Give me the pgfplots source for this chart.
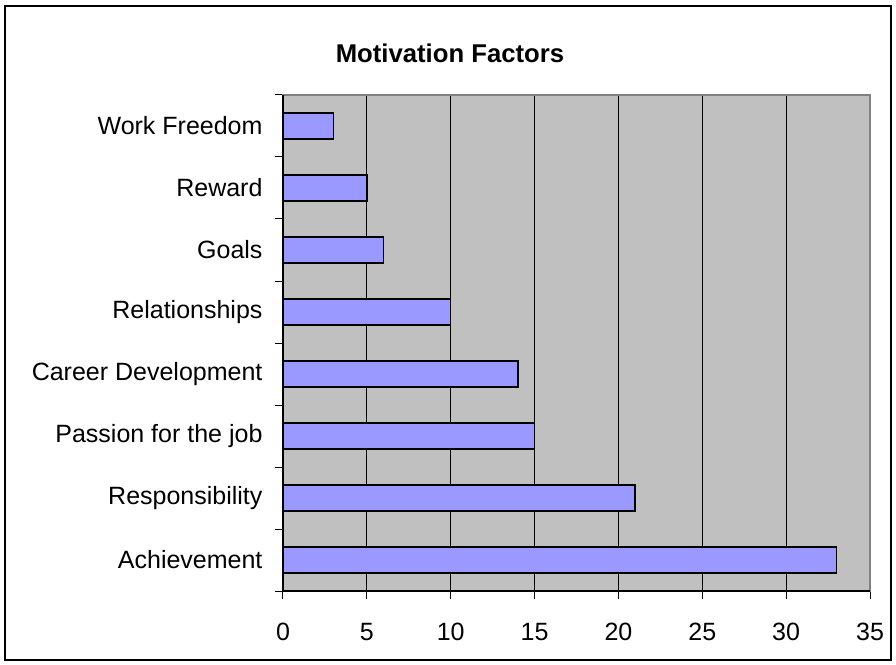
\documentclass[border=0pt]{standalone}
\usepackage{fontspec}
\setmainfont{Liberation Sans}
\usepackage{pgfplots}
\usepackage{pgfplotstable}
\pgfplotsset{compat=1.18}
\definecolor{barblue}{HTML}{9999FF}
\definecolor{plotgray}{HTML}{C0C0C0}
\definecolor{edgegray}{HTML}{808080}
\pgfplotstableread{
pos value
1 33
2 21
3 15
4 14
5 10
6 6
7 5
8 3
}\datatable
\begin{document}
\begin{tikzpicture}
\path[use as bounding box] (-283pt,-73pt) rectangle (613pt,591pt);
\begin{axis}[
  scale only axis, width=587pt, height=496pt,
  at={(0,0)}, anchor=south west,
  xmin=0, xmax=35, ymin=0.5, ymax=8.5,
  xtick={0,5,...,35},
  ytick={0.5,1.5,...,8.5},
  yticklabels={},
  xtick pos=bottom, ytick pos=left,
  extra y ticks={1,2,3,4,5,6,7,8},
  extra y tick labels={Achievement,Responsibility,Passion for the job,Career Development,Relationships,Goals,Reward,Work Freedom},
  extra y tick style={major tick length=0pt, yticklabel style={xshift=-17pt}},
  tick align=outside, major tick length=8pt,
  tick style={black, line width=1pt},
  xmajorgrids, major x grid style={black, line width=0.9pt},
  axis background/.style={fill=plotgray},
  axis line style={edgegray, line width=1.5pt},
  /pgf/number format/assume math mode=true,
  ticklabel style={font=\fontsize{25}{30}\selectfont},
  xticklabel style={yshift=-21pt},
  clip=false,
]
\addplot[xbar, bar width=26pt, fill=barblue, draw=black, line width=1.5pt] table[x=value,y=pos]{\datatable};
\draw[black, line width=1.5pt] (rel axis cs:0,1) -- (rel axis cs:0,0) -- (rel axis cs:1,0);
\end{axis}
\node[font=\bfseries\fontsize{25.7}{30}\selectfont] at (167pt,538pt) {Motivation Factors};
\draw[line width=1.5pt] (-278pt,-69pt) rectangle (608pt,585pt);
\end{tikzpicture}
\end{document}
